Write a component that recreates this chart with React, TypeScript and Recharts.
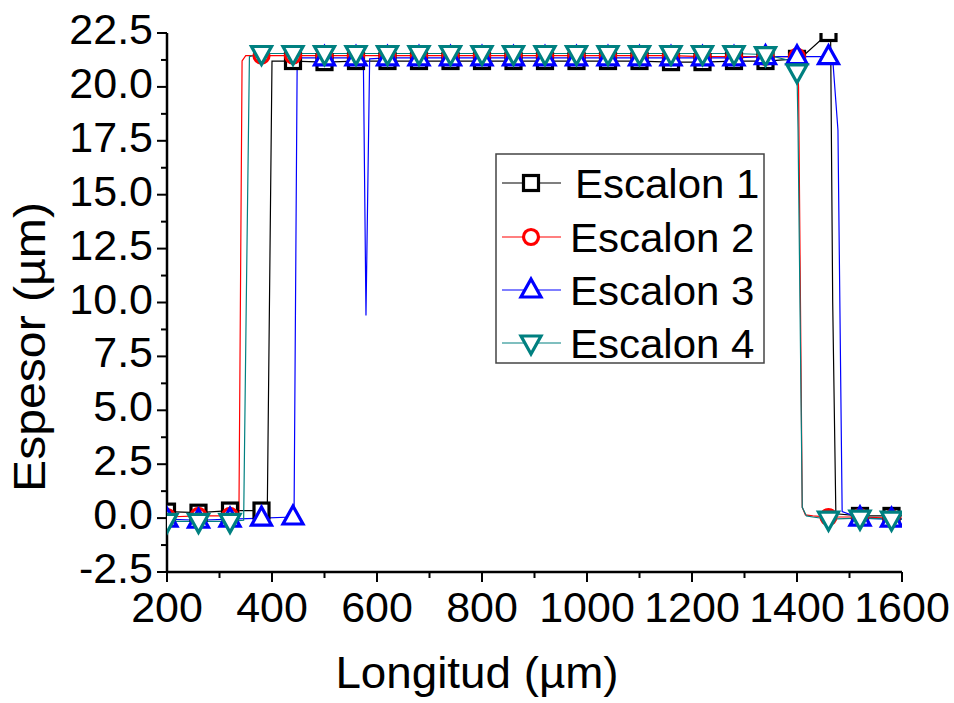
import React from 'react';
import { LineChart, Line, XAxis, YAxis, Legend } from 'recharts';

const seriesNames = ['Escalon 1', 'Escalon 2', 'Escalon 3', 'Escalon 4'];
const seriesColors = ['#000000', '#ff0000', '#0000ff', '#008080'];

const xTicks = [200, 300, 400, 500, 600, 700, 800, 900, 1000, 1100, 1200, 1300, 1400, 1500, 1600];
const yTicks = [-2.5, -1.25, 0, 1.25, 2.5, 3.75, 5, 6.25, 7.5, 8.75, 10, 11.25, 12.5, 13.75, 15, 16.25, 17.5, 18.75, 20, 21.25, 22.5];

// Escalon 1 (black, squares)
const esc1X = [200, 260, 320, 380, 391, 400, 440, 500, 560, 620, 680, 740, 800, 860, 920, 980, 1040, 1100, 1160, 1220, 1280, 1340, 1400, 1410, 1460, 1464, 1468, 1474, 1520, 1580, 1600];
const esc1Y = [0.3, 0.25, 0.35, 0.35, 0.3, 21.2, 21.2, 21.15, 21.2, 21.2, 21.2, 21.2, 21.2, 21.2, 21.2, 21.2, 21.2, 21.2, 21.15, 21.15, 21.2, 21.2, 21.3, 21.4, 22.5, 22.4, 10, 0.2, 0.1, 0.1, 0.1];

// Escalon 2 (red, circles)
const esc2X = [200, 260, 320, 337, 343, 350, 380, 440, 500, 560, 620, 680, 740, 800, 860, 920, 980, 1040, 1100, 1160, 1220, 1280, 1340, 1400, 1403, 1410, 1416, 1430, 1460, 1520, 1580, 1600];
const esc2Y = [0.05, 0.1, 0.1, 0.1, 21.2, 21.45, 21.45, 21.45, 21.45, 21.45, 21.45, 21.45, 21.45, 21.45, 21.45, 21.45, 21.45, 21.45, 21.45, 21.45, 21.4, 21.4, 21.4, 21.4, 20, 0.5, 0.15, 0.1, 0.05, 0.05, 0.0, 0.0];

// Escalon 3 (blue, up triangles)
const esc3X = [200, 260, 320, 380, 440, 442, 448, 500, 560, 574, 579, 586, 620, 680, 740, 800, 860, 920, 980, 1040, 1100, 1160, 1220, 1280, 1340, 1400, 1460, 1468, 1478, 1486, 1520, 1580, 1600];
const esc3Y = [-0.05, -0.1, -0.05, 0.0, 0.05, 0.1, 21.35, 21.35, 21.35, 21.3, 9.4, 21.3, 21.35, 21.35, 21.35, 21.35, 21.35, 21.35, 21.35, 21.35, 21.35, 21.35, 21.35, 21.35, 21.4, 21.4, 21.4, 21.3, 18, 0.3, 0.0, -0.05, -0.05];

// Escalon 4 (teal, down triangles)
const esc4X = [200, 260, 320, 346, 351, 357, 380, 440, 500, 560, 620, 680, 740, 800, 860, 920, 980, 1040, 1100, 1160, 1220, 1280, 1340, 1390, 1400, 1402, 1410, 1418, 1430, 1460, 1520, 1580, 1600];
const esc4Y = [-0.15, -0.15, -0.15, -0.1, 10, 21.4, 21.55, 21.55, 21.55, 21.55, 21.55, 21.55, 21.55, 21.55, 21.55, 21.55, 21.55, 21.55, 21.55, 21.55, 21.55, 21.55, 21.5, 21.2, 20.7, 18, 0.5, 0.1, 0.05, -0.05, 0.0, -0.05, -0.05];

const toData = (xs: number[], ys: number[]) => xs.map((x, i) => ({ x, y: ys[i] }));
const seriesData = [toData(esc1X, esc1Y), toData(esc2X, esc2Y), toData(esc3X, esc3Y), toData(esc4X, esc4Y)];

const FONT = '"Liberation Sans", Arial, sans-serif';
const isMarker = (x: number) => x >= 200 && (x - 200) % 60 === 0;

function Marker({ shape, cx, cy, color }: { shape: number; cx: number; cy: number; color: string }) {
  const sw = 3.2;
  if (shape === 0) return <rect x={cx - 7.5} y={cy - 7.5} width={15} height={15} fill="#fff" stroke={color} strokeWidth={sw} />;
  if (shape === 1) return <circle cx={cx} cy={cy} r={7.5} fill="#fff" stroke={color} strokeWidth={sw} />;
  if (shape === 2)
    return <polygon points={`${cx},${cy - 11} ${cx - 10},${cy + 7} ${cx + 10},${cy + 7}`} fill="#fff" stroke={color} strokeWidth={sw} strokeLinejoin="miter" />;
  return <polygon points={`${cx - 10},${cy - 7} ${cx + 10},${cy - 7} ${cx},${cy + 11}`} fill="#fff" stroke={color} strokeWidth={sw} strokeLinejoin="miter" />;
}

const makeDot = (shape: number, color: string) => (props: any) => {
  const { cx, cy, payload, index } = props;
  if (!payload || !isMarker(payload.x) || cx == null || cy == null) return <g key={`e-${shape}-${index}`} />;
  return (
    <g key={`d-${shape}-${index}`}>
      <Marker shape={shape} cx={cx} cy={cy} color={color} />
    </g>
  );
};

const isMajorY = (v: number) => Math.abs(v / 2.5 - Math.round(v / 2.5)) < 1e-6;
const isMajorX = (v: number) => (v - 200) % 200 === 0;

const LeftTick = (props: any) => {
  const { x, y, payload } = props;
  const v = payload.value;
  const major = isMajorY(v);
  return (
    <g>
      <line x1={x - (major ? 10 : 6)} x2={x} y1={y} y2={y} stroke="#000" strokeWidth={2} />
      {major && (
        <text x={x - 14} y={y + 11} textAnchor="end" fontSize={43} fontFamily={FONT} fill="#000">
          {v.toFixed(1)}
        </text>
      )}
    </g>
  );
};

const RightTick = (props: any) => {
  const { x, y, payload } = props;
  const major = isMajorY(payload.value);
  return <line x1={x} x2={x - (major ? 10 : 6)} y1={y} y2={y} stroke="#000" strokeWidth={2} />;
};

const BottomTick = (props: any) => {
  const { x, y, payload } = props;
  const v = payload.value;
  const major = isMajorX(v);
  return (
    <g>
      <line x1={x} x2={x} y1={y} y2={y + (major ? 10 : 6)} stroke="#000" strokeWidth={2} />
      {major && (
        <text x={x} y={y + 50} textAnchor="middle" fontSize={43} fontFamily={FONT} fill="#000">
          {v}
        </text>
      )}
    </g>
  );
};

const TopTick = (props: any) => {
  const { x, y, payload } = props;
  const major = isMajorX(payload.value);
  return <line x1={x} x2={x} y1={y} y2={y + (major ? 9 : 6)} stroke="#000" strokeWidth={2} />;
};

const XTitle = () => (
  <text transform="translate(477,688) scale(1.04,1)" textAnchor="middle" fontSize={44} fontFamily={FONT} fill="#000">
    Longitud (µm)
  </text>
);

const YTitle = () => (
  <text transform="translate(45,347) rotate(-90) scale(1.07,1)" textAnchor="middle" fontSize={45} fontFamily={FONT} fill="#000">
    Espesor (µm)
  </text>
);

const LegendBox = () => {
  const rows = [30, 84, 137, 190];
  return (
    <svg width={272} height={214} style={{ display: 'block' }}>
      <rect x={1} y={1} width={268} height={209} fill="#fff" stroke="#444" strokeWidth={1.5} />
      {seriesNames.map((name, i) => (
        <g key={name}>
          <line x1={7} x2={66} y1={rows[i]} y2={rows[i]} stroke={seriesColors[i]} strokeWidth={1.2} />
          <Marker shape={i} cx={36} cy={rows[i]} color={seriesColors[i]} />
          <text transform={`translate(${i === 0 ? 80 : 75},${rows[i] + 15}) scale(1.05,1)`} fontSize={40} fontFamily={FONT} fill="#000">
            {name}
          </text>
        </g>
      ))}
    </svg>
  );
};

export default function App() {
  return (
    <div style={{ position: 'absolute', left: 0, top: 0, width: 954, height: 703, background: '#fff' }}>
      <LineChart width={954} height={703} margin={{ top: 33, right: 52, bottom: 0, left: 0 }}>
        <XAxis
          xAxisId="b"
          dataKey="x"
          type="number"
          domain={[200, 1600]}
          ticks={xTicks}
          allowDataOverflow
          height={131}
          tickSize={0}
          tickMargin={0}
          tickLine={false}
          axisLine={{ stroke: '#000', strokeWidth: 2.5 }}
          tick={<BottomTick />}
          interval={0}
          label={<XTitle />}
        />
        <XAxis
          xAxisId="t"
          orientation="top"
          dataKey="x"
          type="number"
          domain={[200, 1600]}
          ticks={xTicks}
          allowDataOverflow
          height={0}
          tickSize={0}
          tickMargin={0}
          tickLine={false}
          axisLine={{ stroke: '#000', strokeWidth: 2.5 }}
          tick={<TopTick />}
          interval={0}
        />
        <YAxis
          yAxisId="l"
          type="number"
          domain={[-2.5, 22.5]}
          ticks={yTicks}
          allowDataOverflow
          width={167}
          tickSize={0}
          tickMargin={0}
          tickLine={false}
          axisLine={{ stroke: '#000', strokeWidth: 2.5 }}
          tick={<LeftTick />}
          interval={0}
          label={<YTitle />}
        />
        <YAxis
          yAxisId="r"
          orientation="right"
          type="number"
          domain={[-2.5, 22.5]}
          ticks={yTicks}
          allowDataOverflow
          width={0}
          tickSize={0}
          tickMargin={0}
          tickLine={false}
          axisLine={{ stroke: '#000', strokeWidth: 2.5 }}
          tick={<RightTick />}
          interval={0}
        />
        {seriesData.map((d, i) => (
          <Line
            key={seriesNames[i]}
            xAxisId="b"
            yAxisId="l"
            data={d}
            dataKey="y"
            name={seriesNames[i]}
            type="linear"
            stroke={seriesColors[i]}
            strokeWidth={1.2}
            dot={makeDot(i, seriesColors[i])}
            activeDot={false}
            isAnimationActive={false}
          />
        ))}
        <Legend
          layout="vertical"
          align="center"
          verticalAlign="middle"
          wrapperStyle={{ position: 'absolute', left: 495, top: 153, width: 272, height: 214 }}
          content={() => <LegendBox />}
        />
      </LineChart>
    </div>
  );
}
